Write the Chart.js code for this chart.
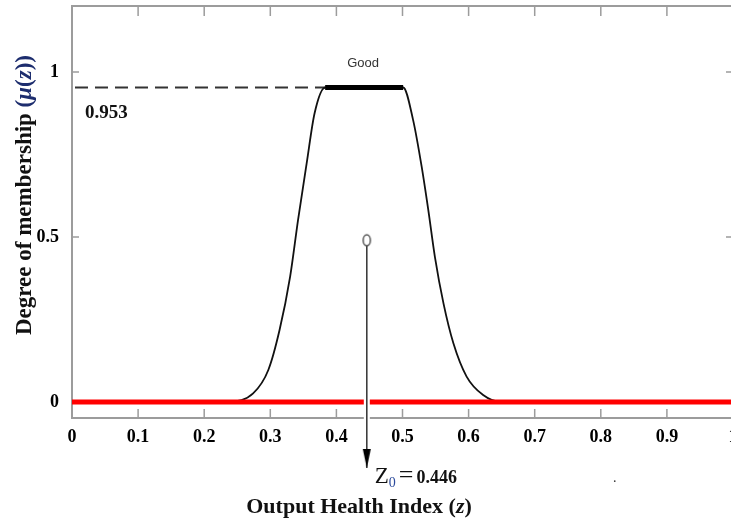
<!DOCTYPE html>
<html><head><meta charset="utf-8">
<script src="https://cdn.jsdelivr.net/npm/chart.js@4/dist/chart.umd.min.js"></script>
<style>html,body{margin:0;padding:0;background:#fff;overflow:hidden;}#wrap{width:740px;height:522px;}</style>
</head><body><div id="wrap"><canvas id="c" width="740" height="522"></canvas></div>
<script>
// ---- data ----
const xTickValues = [0, 0.1, 0.2, 0.3, 0.4, 0.5, 0.6, 0.7, 0.8, 0.9, 1];
const xTickLabels = ['0', '0.1', '0.2', '0.3', '0.4', '0.5', '0.6', '0.7', '0.8', '0.9', '1'];
const yTickValues = [0, 0.5, 1];
const yTickLabels = ['0', '0.5', '1'];
const curveX = [0.20, 0.239, 0.274, 0.297, 0.314, 0.330, 0.342, 0.355, 0.367, 0.383, 0.501, 0.516, 0.529, 0.539, 0.549, 0.562, 0.577, 0.597, 0.622, 0.648, 0.70];
const curveY = [0, 0.001, 0.026, 0.097, 0.218, 0.380, 0.552, 0.723, 0.875, 0.953, 0.953, 0.855, 0.713, 0.582, 0.440, 0.299, 0.178, 0.077, 0.021, 0.001, 0];
const plateauX = [0.383, 0.501];
const cutLevel = 0.953;
const dashX = [0, 0.383];
const zeroLineX = [0, 1];
const z0 = 0.446;
const arrowY = [0.49, -0.2];
const setName = 'Good';
const cutLabel = '0.953';
const z0Value = '0.446';
const xTitle = 'Output Health Index (';
const yTitle = 'Degree of membership ';

// ---- point style images (arrow head, hollow ellipse) ----
function makeHead() {
  const c = document.createElement('canvas'); c.width = 10; c.height = 44;
  const g = c.getContext('2d'); g.fillStyle = '#000';
  g.beginPath(); g.moveTo(1, 3); g.lineTo(9, 3); g.lineTo(5, 22); g.closePath(); g.fill();
  return c;
}
function makeRing() {
  const c = document.createElement('canvas'); c.width = 11; c.height = 15;
  const g = c.getContext('2d'); g.fillStyle = '#fff'; g.strokeStyle = '#555'; g.lineWidth = 1.5;
  g.beginPath(); g.ellipse(5.5, 7.5, 3.6, 5.4, 0, 0, Math.PI * 2); g.fill(); g.stroke();
  return c;
}

const pts = (xs, ys) => xs.map((v, i) => ({x: v, y: ys[i]}));
const serif = '"Liberation Serif", "Times New Roman", serif';

const framePlugin = {
  id: 'frame',
  beforeDatasetsDraw(chart) {
    const {ctx, chartArea: a, scales: {x, y}} = chart;
    ctx.save();
    ctx.strokeStyle = '#9c9c9c'; ctx.lineWidth = 2;
    ctx.strokeRect(a.left, a.top, a.right - a.left, a.bottom - a.top);
    ctx.lineWidth = 1.5; ctx.beginPath();
    xTickValues.forEach(v => { const p = x.getPixelForValue(v);
      ctx.moveTo(p, a.bottom); ctx.lineTo(p, a.bottom - 9);
      ctx.moveTo(p, a.top); ctx.lineTo(p, a.top + 10); });
    yTickValues.forEach(v => { const p = y.getPixelForValue(v);
      ctx.moveTo(a.left, p); ctx.lineTo(a.left + 7, p);
      ctx.moveTo(a.right, p); ctx.lineTo(a.right - 7, p); });
    ctx.stroke(); ctx.restore();
  }
};

function runs(ctx, list, x, y, center) {
  let w = 0;
  list.forEach(r => { ctx.font = r.f; w += ctx.measureText(r.t).width + (r.gap || 0); });
  let cx = center ? x - w / 2 : x;
  list.forEach(r => { ctx.font = r.f; ctx.fillStyle = r.c || '#000';
    cx += (r.gap || 0); ctx.fillText(r.t, cx, y + (r.dy || 0)); cx += ctx.measureText(r.t).width; });
}

const textPlugin = {
  id: 'texts',
  afterDraw(chart) {
    const {ctx, chartArea: a, scales: {x, y}} = chart;
    ctx.save();
    ctx.textBaseline = 'alphabetic'; ctx.textAlign = 'left';
    // Good label
    ctx.font = '13px "Liberation Sans", Arial, sans-serif'; ctx.fillStyle = '#333'; ctx.textAlign = 'center';
    ctx.fillText(setName, x.getPixelForValue((plateauX[0] + plateauX[1]) / 2) - 1, y.getPixelForValue(cutLevel) - 21);
    ctx.textAlign = 'left';
    // 0.953 label
    ctx.font = 'bold 19px ' + serif; ctx.fillStyle = '#111';
    ctx.fillText(cutLabel, a.left + 13, y.getPixelForValue(cutLevel) + 30);
    // Z0 label
    const ax = x.getPixelForValue(z0), ay = y.getPixelForValue(arrowY[1]);
    runs(ctx, [
      {t: 'Z', f: '23px ' + serif, c: '#111'},
      {t: '0', f: '14px ' + serif, c: '#2b4a9c', dy: 4},
      {t: '=', f: '26px ' + serif, c: '#111', gap: 3},
      {t: z0Value, f: 'bold 18px ' + serif, c: '#111', gap: 3}
    ], ax + 8, ay + 15, false);
    // stray dot
    ctx.font = '14px ' + serif; ctx.fillStyle = '#333'; ctx.fillText('.', 613, 482);
    // x title
    runs(ctx, [
      {t: xTitle, f: 'bold 22px ' + serif, c: '#111'},
      {t: 'z', f: 'italic bold 22px ' + serif, c: '#111'},
      {t: ')', f: 'bold 22px ' + serif, c: '#111'}
    ], 359, 513, true);
    // y title
    ctx.translate(31, 195); ctx.rotate(-Math.PI / 2);
    runs(ctx, [
      {t: yTitle, f: 'bold 23px ' + serif, c: '#111'},
      {t: '(', f: 'bold 23px ' + serif, c: '#1d2d6e'},
      {t: 'μ', f: 'italic bold 23px ' + serif, c: '#1d2d6e'},
      {t: '(', f: 'bold 23px ' + serif, c: '#1d2d6e'},
      {t: 'z', f: 'italic bold 23px ' + serif, c: '#1d2d6e'},
      {t: '))', f: 'bold 23px ' + serif, c: '#1d2d6e'}
    ], 0, 0, true);
    ctx.restore();
  }
};

new Chart(document.getElementById('c'), {
  type: 'line',
  data: {
    datasets: [
      { label: 'arrow', data: pts([z0, z0], arrowY), borderColor: '#333', borderWidth: 1.5,
        pointStyle: [makeRing(), makeHead()], pointRadius: [6, 60], clip: false, order: 0 },
      { label: 'arrowGap', data: pts([z0, z0], arrowY), borderColor: '#fff', borderWidth: 6,
        pointRadius: 0, clip: false, order: 1 },
      { label: 'zero', data: pts(zeroLineX, [0, 0]), borderColor: '#ff0000', borderWidth: 5,
        pointRadius: 0, order: 2 },
      { label: 'plateau', data: pts(plateauX, [cutLevel, cutLevel]), borderColor: '#000', borderWidth: 5,
        borderCapStyle: 'butt', pointRadius: 0, order: 3 },
      { label: setName, data: pts(curveX, curveY), borderColor: '#111', borderWidth: 1.8,
        cubicInterpolationMode: 'monotone', pointRadius: 0, order: 4 },
      { label: 'cut', data: pts(dashX, [cutLevel, cutLevel]), borderColor: '#333', borderWidth: 2,
        borderDash: [13, 7], borderDashOffset: -3, pointRadius: 0, order: 5 }
    ]
  },
  options: {
    responsive: false, animation: false, events: [],
    layout: { autoPadding: false, padding: { top: 6, right: 7, left: 0, bottom: 0 } },
    plugins: { legend: { display: false }, tooltip: { enabled: false } },
    scales: {
      x: {
        type: 'linear', min: 0, max: 1,
        afterBuildTicks(s) { s.ticks = xTickValues.map(v => ({ value: v })); },
        afterFit(s) { s.height = 104; s.paddingLeft = 0; s.paddingRight = 0; s.paddingTop = 0; s.paddingBottom = 0; },
        grid: { display: false, drawTicks: false }, border: { display: false },
        ticks: { padding: 9, autoSkip: false, maxRotation: 0, color: '#000',
          font: { family: serif, weight: 'bold', size: 18 },
          callback: (v, i) => xTickLabels[i] }
      },
      y: {
        type: 'linear', min: -0.0485, max: 1.2,
        afterBuildTicks(s) { s.ticks = yTickValues.map(v => ({ value: v })); },
        afterFit(s) { s.width = 72; s.paddingLeft = 0; s.paddingRight = 0; s.paddingTop = 0; s.paddingBottom = 0; },
        grid: { display: false, drawTicks: false }, border: { display: false },
        ticks: { padding: 13, color: '#000',
          font: { family: serif, weight: 'bold', size: 18 },
          callback: (v, i) => yTickLabels[i] }
      }
    }
  },
  plugins: [framePlugin, textPlugin]
});
</script>
</body></html>
